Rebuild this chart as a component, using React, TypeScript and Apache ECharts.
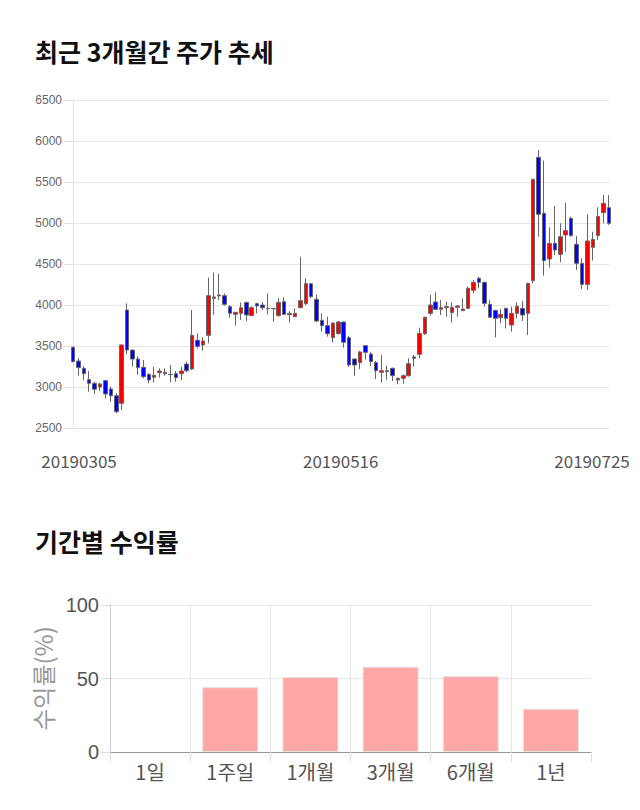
import React, { useEffect, useRef } from "react";
import * as echarts from "echarts";

const dates = [
  "20190305","20190306","20190307","20190308","20190311","20190312","20190313","20190314","20190315","20190318",
  "20190319","20190320","20190321","20190322","20190325","20190326","20190327","20190328","20190329",
  "20190401","20190402","20190403","20190404","20190405","20190408","20190409","20190410","20190411","20190412",
  "20190415","20190416","20190417","20190418","20190419","20190422","20190423","20190424","20190425","20190426",
  "20190429","20190430",
  "20190502","20190503","20190507","20190508","20190509","20190510","20190513","20190514","20190515","20190516",
  "20190517","20190520","20190521","20190522","20190523","20190524","20190527","20190528","20190529","20190530","20190531",
  "20190603","20190604","20190605","20190607","20190610","20190611","20190612","20190613","20190614",
  "20190617","20190618","20190619","20190620","20190621","20190624","20190625","20190626","20190627","20190628",
  "20190701","20190702","20190703","20190704","20190705","20190708","20190709","20190710","20190711","20190712",
  "20190715","20190716","20190717","20190718","20190719","20190722","20190723","20190724","20190725",
];

const opens = [
  3485,3317,3228,3090,3045,3000,3077,2976,2894,2801,
  3939,3451,3341,3240,3154,3118,3175,3179,3154,3163,
  3163,3280,3220,3569,3512,3630,4081,4110,4114,3980,
  3886,3898,4032,3870,4016,4000,3959,3955,3870,4041,
  3882,3858,3967,4016,4260,4069,3813,3748,3602,3650,
  3793,3602,3341,3297,3504,3402,3297,3179,3199,3228,
  3085,3106,3138,3366,3398,3650,3898,4037,3947,3967,
  3907,3972,3931,3959,4179,4325,4276,4008,3935,3846,
  3959,3756,3898,3959,3898,4297,5801,5118,4561,4752,
  4618,4854,5057,4740,4508,4252,4703,4846,5126,5187,
];
const closes = [
  3310,3236,3163,3045,2972,3037,2915,2894,2699,3512,
  3451,3341,3236,3126,3085,3142,3195,3163,3150,3114,
  3195,3199,3630,3496,3561,4114,4098,4122,4008,3898,
  3911,3967,3878,3967,3988,3967,3955,3959,4032,3886,
  3898,3898,4053,4260,4102,3805,3748,3650,3780,3793,
  3545,3268,3268,3427,3423,3309,3199,3199,3187,3138,
  3106,3138,3285,3350,3654,3850,4000,3947,3967,3980,
  3972,3988,3951,4203,4276,4276,4020,3850,3837,3886,
  3837,3898,3984,3878,4264,5533,5106,4541,4752,4671,
  4833,4907,4846,4508,4252,4781,4801,5081,5240,4996,
];
const lows = [
  3300,3138,3085,2943,2915,2951,2862,2821,2679,2720,
  3398,3248,3146,3106,3045,3053,3114,3138,3057,3065,
  3085,3179,3207,3472,3443,3533,3878,4061,3992,3846,
  3748,3817,3805,3870,3898,3939,3886,3797,3858,3878,
  3785,3858,3967,4000,4081,3789,3675,3614,3545,3642,
  3480,3244,3138,3220,3333,3256,3098,3053,3090,3073,
  3033,3041,3126,3248,3350,3634,3870,3939,3878,3858,
  3785,3858,3931,3959,4142,4203,3980,3850,3606,3776,
  3715,3675,3837,3805,3634,4264,4833,4358,4459,4610,
  4520,4650,4833,4427,4195,4183,4541,4793,4996,4976,
];
const highs = [
  3490,3350,3256,3195,3065,3053,3085,3004,2923,3520,
  4020,3451,3370,3329,3167,3244,3228,3228,3268,3195,
  3248,3309,3939,3654,3606,4333,4398,4382,4142,4000,
  3911,4032,4041,3984,4028,4032,4142,3959,4081,4093,
  3927,3959,4589,4325,4260,4130,3899,3858,3789,3805,
  3793,3626,3350,3443,3512,3431,3317,3390,3260,3236,
  3118,3154,3350,3390,3724,3858,4122,4154,4061,4041,
  4032,4000,4081,4224,4305,4346,4285,4061,3935,3951,
  3967,3980,4032,4049,4264,5533,5887,5761,4947,5207,
  4996,5244,5077,4842,4569,5106,4894,5191,5342,5342,
];

const priceTickIndices = [0, 50, 99];

const periods = ["1일", "1주일", "1개월", "3개월", "6개월", "1년"];
const returns = [0, 44.1, 51.1, 58.0, 51.6, 29.5];

export default function App() {
  const ref = useRef<HTMLDivElement>(null);

  useEffect(() => {
    if (!ref.current) return;
    const chart = echarts.init(ref.current, undefined, { renderer: "svg" });
    const candleData = opens.map((o, i) => [o, closes[i], lows[i], highs[i]]);
    const barData = returns.map((v) => (v === 0 ? { value: v, itemStyle: { borderWidth: 0 } } : v));
    const font = '"Noto Sans CJK KR", "Noto Sans", sans-serif';
    const option: any = {
      animation: false,
      title: [
        {
          text: "최근 3개월간 주가 추세",
          left: 30,
          top: 33,
          textStyle: { fontSize: 25, fontWeight: "bold", color: "#111", fontFamily: font },
        },
        {
          text: "기간별 수익률",
          left: 30,
          top: 523,
          textStyle: { fontSize: 25, fontWeight: "bold", color: "#111", fontFamily: font },
        },
      ],
      grid: [
        { left: 73, right: 31, top: 100, height: 328 },
        { left: 110, right: 49, top: 605, height: 147 },
      ],
      xAxis: [
        {
          type: "category",
          gridIndex: 0,
          data: dates,
          boundaryGap: false,
          axisLine: { lineStyle: { color: "#e2e2e2" } },
          axisTick: { show: false },
          splitLine: { show: false },
          axisLabel: {
            interval: (idx: number) => priceTickIndices.includes(idx),
            margin: 24,
            fontSize: 17,
            color: "#555",
            fontFamily: font,
            formatter: (v: string, idx: number) => {
              if (idx === priceTickIndices[0]) return "{f|" + v + "}";
              if (idx === priceTickIndices[2]) return "{l|" + v + "}";
              return "{m|" + v + "}";
            },
            rich: {
              f: { fontSize: 17, color: "#555", fontFamily: font, padding: [0, 0, 0, 12] },
              m: { fontSize: 17, color: "#555", fontFamily: font, padding: [0, 6, 0, 0] },
              l: { fontSize: 17, color: "#555", fontFamily: font, padding: [0, 34, 0, 0] },
            },
          },
        },
        {
          type: "category",
          gridIndex: 1,
          data: periods,
          axisLine: { lineStyle: { color: "#999" } },
          axisTick: { show: true, length: 10, lineStyle: { color: "#ddd" } },
          splitLine: { show: true, showMaxLine: false, lineStyle: { color: "#e6e6e6" } },
          axisLabel: { fontSize: 20, color: "#555", margin: 9, fontFamily: font },
        },
      ],
      yAxis: [
        {
          type: "value",
          gridIndex: 0,
          min: 2500,
          max: 6500,
          interval: 500,
          axisLine: { show: true, lineStyle: { color: "#e2e2e2" } },
          axisTick: { show: true, length: 9, lineStyle: { color: "#e2e2e2" } },
          axisLabel: {
            fontSize: 12,
            color: "#666",
            margin: 11,
            fontFamily: '"Liberation Sans", Arial',
            formatter: (v: number) => String(v),
          },
          splitLine: { lineStyle: { color: "#e6e6e6" } },
        },
        {
          type: "value",
          gridIndex: 1,
          min: 0,
          max: 100,
          interval: 50,
          name: "수익률(%)",
          nameLocation: "middle",
          nameGap: 49,
          nameRotate: 90,
          nameTextStyle: { fontSize: 24, color: "#999", fontFamily: font },
          axisLine: { show: true, lineStyle: { color: "#ccc" } },
          axisTick: { show: true, length: 9, lineStyle: { color: "#ddd" } },
          axisLabel: {
            fontSize: 20,
            color: "#555",
            margin: 11,
            fontFamily: '"Liberation Sans", Arial',
            formatter: (v: number) => String(v),
          },
          splitLine: { lineStyle: { color: "#e6e6e6" } },
        },
      ],
      series: [
        {
          type: "candlestick",
          xAxisIndex: 0,
          yAxisIndex: 0,
          data: candleData,
          barWidth: 4,
          itemStyle: {
            color: "#ff0000",
            color0: "#0000ff",
            borderColor: "#666",
            borderColor0: "#666",
            borderWidth: 1,
          },
        },
        {
          type: "bar",
          xAxisIndex: 1,
          yAxisIndex: 1,
          data: barData,
          barWidth: 56,
          itemStyle: { color: "#ffa6a6", borderColor: "#e4e4e4", borderWidth: 1 },
        },
      ],
    };
    chart.setOption(option);
    return () => chart.dispose();
  }, []);

  return (
    <div
      ref={ref}
      style={{ position: "fixed", left: 0, top: 0, width: 640, height: 810, background: "#fff" }}
    />
  );
}
